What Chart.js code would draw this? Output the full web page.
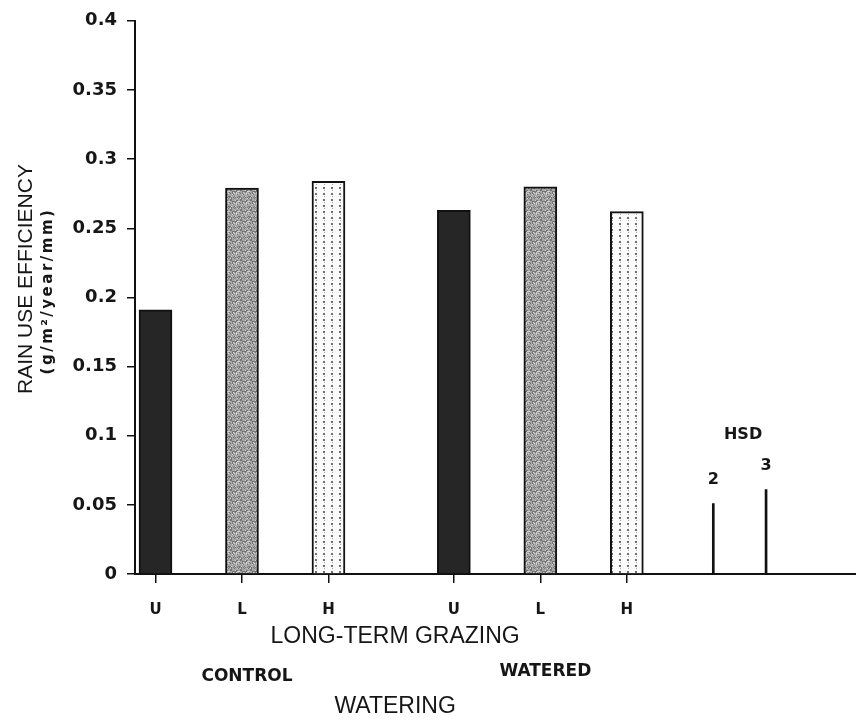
<!DOCTYPE html>
<html>
<head>
<meta charset="utf-8">
<script src="https://cdn.jsdelivr.net/npm/chart.js@4"></script>
<style>
  html, body { margin: 0; padding: 0; background: #fff; }
  #wrap { width: 856px; height: 722px; }
</style>
</head>
<body>
<div id="wrap"><canvas id="rue" width="856" height="722"></canvas></div>
<script>
// Rain use efficiency by long-term grazing level within each watering treatment
const grazingLevels = ['U', 'L', 'H'];
const wateringGroups = ['CONTROL', 'WATERED'];
const controlRUE = [0.191, 0.279, 0.284];
const wateredRUE = [0.263, 0.280, 0.262];
const hsdLabels = ['2', '3'];
const hsdValues = [0.051, 0.061];
const yTickValues = [0, 0.05, 0.1, 0.15, 0.2, 0.25, 0.3, 0.35, 0.4];

// Layout of the positions along the x axis (one unit = one bar slot)
const GROUP_SPAN = 3.45;
const HSD_X0 = 6.45;
const HSD_STEP = 0.61;

const canvas = document.getElementById('rue');
const ctx = canvas.getContext('2d');

function tile(w, h, paint) {
  const c = document.createElement('canvas');
  c.width = w; c.height = h;
  paint(c.getContext('2d'));
  return ctx.createPattern(c, 'repeat');
}

// Mottled grey screen for the light-grazing bars
const greyScreen = tile(10, 10, g => {
  g.fillStyle = '#a6a6a6';
  g.fillRect(0, 0, 10, 10);
  for (let y = 0; y < 10; y++) {
    for (let x = 0; x < 10; x++) {
      const h = (x * 37 + y * 91 + x * y * 13) % 17;
      if (h < 5) { g.fillStyle = '#767676'; g.fillRect(x, y, 1, 1); }
      else if (h > 13) { g.fillStyle = '#cfcfcf'; g.fillRect(x, y, 1, 1); }
    }
  }
});

// Dot screen for the heavy-grazing bars
const dotScreen = tile(8, 12, g => {
  g.fillStyle = '#fbfbfb';
  g.fillRect(0, 0, 8, 12);
  g.fillStyle = '#6e6e6e';
  [[3, 1], [3, 7]].forEach(([x, y]) => g.fillRect(x, y, 2, 2));
  g.fillStyle = '#a8a8a8';
  [[4, 4], [4, 10]].forEach(([x, y]) => g.fillRect(x, y, 1, 1));
});

const fills = ['#262626', greyScreen, dotScreen];

function groupData(values, groupIndex) {
  return values.map((v, i) => ({ x: groupIndex * GROUP_SPAN + i, y: v }));
}

const tickPositions = [];
const tickNames = [];
wateringGroups.forEach((_, gi) => {
  grazingLevels.forEach((lvl, i) => {
    tickPositions.push(gi * GROUP_SPAN + i);
    tickNames.push(lvl);
  });
});

const barStyle = {
  backgroundColor: fills,
  borderColor: '#111',
  borderWidth: 2,
  barThickness: 33,
  grouped: false
};

const annotate = {
  id: 'annotate',
  afterDraw(chart) {
    const c = chart.ctx;
    const xs = chart.scales.x;
    const ys = chart.scales.y;
    c.save();
    c.fillStyle = '#161616';
    c.textAlign = 'center';
    c.textBaseline = 'middle';

    // y-axis title and units
    c.save();
    c.translate(26, 279);
    c.rotate(-Math.PI / 2);
    c.font = '21px "Liberation Sans", Arial, sans-serif';
    c.fillText('RAIN USE EFFICIENCY', 0, 0);
    c.restore();

    c.save();
    c.translate(48, 291);
    c.rotate(-Math.PI / 2);
    c.font = 'bold 15px "DejaVu Sans", sans-serif';
    c.letterSpacing = '2.5px';
    c.fillText('(g/m\u00B2/year/mm)', 0, 0);
    c.letterSpacing = '0px';
    c.restore();

    // x-axis titles
    const mid = xs.getPixelForValue((GROUP_SPAN + grazingLevels.length - 1) / 2) + 4;
    c.font = '23px "Liberation Sans", Arial, sans-serif';
    c.fillText('LONG-TERM GRAZING', mid, 637);
    c.fillText('WATERING', mid, 707);

    c.font = 'bold 17px "DejaVu Sans", sans-serif';
    const groupY = [677, 672];
    wateringGroups.forEach((name, gi) => {
      const gx = xs.getPixelForValue(gi * GROUP_SPAN + 1) + 5;
      c.fillText(name, gx, groupY[gi]);
    });

    // HSD labels above the bars of the least significant differences
    c.font = 'bold 16px "DejaVu Sans", sans-serif';
    hsdValues.forEach((v, k) => {
      const hx = xs.getPixelForValue(HSD_X0 + k * HSD_STEP);
      const hy = ys.getPixelForValue(v);
      c.fillText(hsdLabels[k], hx, hy - 24);
    });
    const lastX = xs.getPixelForValue(HSD_X0 + (hsdValues.length - 1) * HSD_STEP);
    const lastY = ys.getPixelForValue(hsdValues[hsdValues.length - 1]);
    c.fillText('HSD', lastX - 23, lastY - 55);
    c.restore();
  }
};

new Chart(ctx, {
  type: 'bar',
  data: {
    datasets: [
      Object.assign({ label: wateringGroups[0], data: groupData(controlRUE, 0) }, barStyle),
      Object.assign({ label: wateringGroups[1], data: groupData(wateredRUE, 1) }, barStyle),
      {
        label: 'HSD',
        data: hsdValues.map((v, k) => ({ x: HSD_X0 + k * HSD_STEP, y: v })),
        backgroundColor: '#111',
        borderWidth: 0,
        barThickness: 2,
        grouped: false
      }
    ]
  },
  options: {
    responsive: false,
    devicePixelRatio: 1,
    animation: false,
    layout: { padding: { top: 14, right: 0, left: 0, bottom: 0 } },
    plugins: {
      legend: { display: false },
      tooltip: { enabled: false }
    },
    scales: {
      x: {
        type: 'linear',
        min: -0.237,
        max: 8.1,
        offset: false,
        afterBuildTicks: axis => { axis.ticks = tickPositions.map(v => ({ value: v })); },
        afterFit: axis => { axis.height = 148; },
        grid: {
          display: true,
          offset: false,
          drawOnChartArea: false,
          drawTicks: true,
          tickLength: 9,
          color: '#111',
          lineWidth: 1.5
        },
        border: { display: true, color: '#111', width: 2 },
        ticks: {
          autoSkip: false,
          maxRotation: 0,
          padding: 18,
          color: '#161616',
          font: { family: '"DejaVu Sans", sans-serif', size: 15, weight: 'bold' },
          callback: (value, index) => tickNames[index]
        }
      },
      y: {
        min: 0,
        max: 0.4,
        afterBuildTicks: axis => { axis.ticks = yTickValues.map(v => ({ value: v })); },
        afterFit: axis => { axis.width = 135; },
        grid: {
          display: true,
          drawOnChartArea: false,
          drawTicks: true,
          tickLength: 8,
          color: '#111',
          lineWidth: 1.5
        },
        border: { display: true, color: '#111', width: 2 },
        ticks: {
          padding: 10,
          color: '#161616',
          font: { family: '"DejaVu Sans", sans-serif', size: 18, weight: 'bold' },
          callback: value => String(+value.toFixed(2))
        }
      }
    }
  },
  plugins: [annotate]
});
</script>
</body>
</html>
